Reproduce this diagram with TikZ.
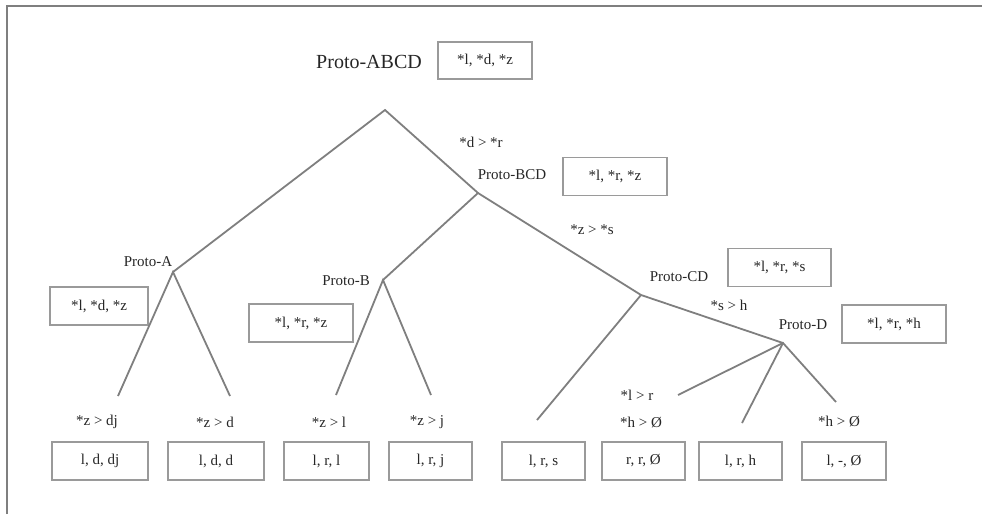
\documentclass[tikz,border=0pt]{standalone}
\usepackage{fontspec}
\setmainfont{Liberation Serif}
\usepackage{xcolor}
\usetikzlibrary{positioning}

\definecolor{treegray}{HTML}{7F7F7F}
\definecolor{boxgray}{HTML}{9A9A9A}
\definecolor{inkgray}{HTML}{262626}

\begin{document}
\begin{tikzpicture}[x=1pt, y=-1pt,
  branch/.style={draw=treegray, line width=1.8pt},
  frame/.style={draw=treegray, line width=2pt},
  form/.style={draw=boxgray, line width=1.2pt, minimum height=38pt,
    inner sep=0pt, text=inkgray, font=\fontsize{15}{18}\selectfont},
  proto/.style={inner sep=0pt, text=inkgray, font=\fontsize{15}{18}\selectfont},
  change/.style={inner sep=0pt, text=inkgray, font=\fontsize{15}{18}\selectfont}
]
  \useasboundingbox (0,0) rectangle (982,514);
  \draw[frame] (7,514) -- (7,6) -- (982,6);

  % proto-languages
  \node[proto, font=\fontsize{20}{24}\selectfont] (nabcd) at (369,62) {Proto-ABCD};
  \node[form, minimum width=94pt, minimum height=37pt] (fabcd) at (485,60.5) {*l, *d, *z};
  \node[proto] (nbcd) at (512,175) {Proto-BCD};
  \node[form, minimum width=104pt] (fbcd) at (615,176.5) {*l, *r, *z};
  \node[proto] (na) at (148,262) {Proto-A};
  \node[form, minimum width=98pt] (fa) at (99,306) {*l, *d, *z};
  \node[proto] (nb) at (346,281) {Proto-B};
  \node[form, minimum width=104pt] (fb) at (301,323) {*l, *r, *z};
  \node[proto] (ncd) at (679,277) {Proto-CD};
  \node[form, minimum width=103pt] (fcd) at (779.5,267.5) {*l, *r, *s};
  \node[proto] (nd) at (803,325) {Proto-D};
  \node[form, minimum width=104pt] (fd) at (894,324) {*l, *r, *h};

  % branching points
  \coordinate (abcd) at (385,110);
  \coordinate (bcd) at (478,193);
  \coordinate (a) at (173,272);
  \coordinate (b) at (383,280);
  \coordinate (cd) at (641,295);
  \coordinate (d) at (783,343);

  % loose ends of the daughter branches
  \coordinate (a1) at (118,396);
  \coordinate (a2) at (230,396);
  \coordinate (b1) at (336,395);
  \coordinate (b2) at (431,395);
  \coordinate (c1) at (537,420);
  \coordinate (d1) at (678,395);
  \coordinate (d2) at (742,423);
  \coordinate (d3) at (836,402);

  \draw[branch] (a) -- (abcd) -- (bcd);
  \draw[branch] (b) -- (bcd) -- (cd);
  \draw[branch] (a1) -- (a) -- (a2);
  \draw[branch] (b1) -- (b) -- (b2);
  \draw[branch] (c1) -- (cd) -- (d);
  \draw[branch] (d1) -- (d) -- (d3);
  \draw[branch] (d) -- (d2);

  % sound changes
  \node[change] (cdr) at (481,142) {*d > *r};
  \node[change] (czs) at (592,230) {*z > *s};
  \node[change] (csh) at (729,305) {*s > h};
  \node[change] (czdj) at (97,422) {*z > dj};
  \node[change] (czd) at (215,422) {*z > d};
  \node[change] (czl) at (329,422) {*z > l};
  \node[change] (czj) at (427,422) {*z > j};
  \node[change] (clr) at (637,395) {*l > r};
  \node[change] (chz1) at (641,422) {*h > Ø};
  \node[change] (chz2) at (839,421) {*h > Ø};

  % attested forms
  \node[form, minimum width=96pt] (la1) at (100,461) {l, d, dj};
  \node[form, minimum width=96pt] (la2) at (216,461) {l, d, d};
  \node[form, minimum width=85pt] (lb1) at (326.5,461) {l, r, l};
  \node[form, minimum width=83pt] (lb2) at (430.5,461) {l, r, j};
  \node[form, minimum width=83pt] (lc) at (543.5,461) {l, r, s};
  \node[form, minimum width=83pt] (ld1) at (643.5,461) {r, r, Ø};
  \node[form, minimum width=83pt] (ld2) at (740.5,461) {l, r, h};
  \node[form, minimum width=84pt] (ld3) at (844,461) {l, -, Ø};
\end{tikzpicture}
\end{document}
